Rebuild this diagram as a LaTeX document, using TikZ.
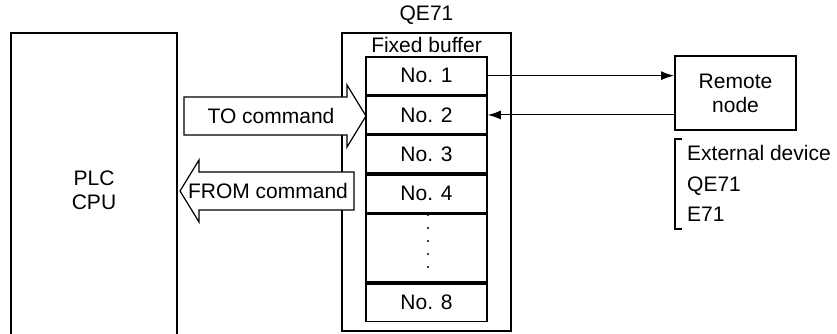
\documentclass[tikz,border=0pt]{standalone}
\usepackage{fontspec}
\setmainfont{Liberation Sans}
\usetikzlibrary{arrows.meta}
\begin{document}
\begin{tikzpicture}[x=1pt,y=-1pt, font=\fontsize{21}{24}\selectfont,
  box/.style={draw, line width=2pt},
  cell/.style={draw, line width=1.6pt, minimum width=121pt, inner sep=0pt, anchor=north},
  bigarrow/.style={draw, fill=white, line width=1.2pt},
  link/.style={line width=1.1pt, -{Latex[length=13pt,width=9pt]}},
  lbl/.style={inner sep=0pt}]
\useasboundingbox (0,0) rectangle (837,334);
% PLC CPU
\draw[box] (11,340) -- (11,33) -- (177,33) -- (177,340);
\node[lbl, align=center] (plc) at (94,190) {PLC\\CPU};
% QE71 box
\node[box, minimum width=169pt, minimum height=298pt, inner sep=0pt] (qe) at (426.5,182) {};
\node[lbl] (qelbl) at (426.5,15) {QE71};
\node[lbl] (fb) at (426.5,45) {Fixed buffer};
% big arrows
\draw[bigarrow] (184,97) -- (347,97) -- (347,85) -- (366,116) -- (347,147) -- (347,135) -- (184,135) -- cycle;
\node[lbl] (to) at (271,116) {TO command};
\draw[bigarrow] (354,172) -- (199,172) -- (199,160) -- (180,191) -- (199,222) -- (199,210) -- (354,210) -- cycle;
\node[lbl] (from) at (268,191) {FROM command};
% buffer cells
\node[cell, minimum height=37.7pt] (n1) at (426.5,56) {No. 1};
\node[cell, minimum height=37.7pt] (n2) at (n1.south) {No. 2};
\node[cell, minimum height=37.7pt] (n3) at (n2.south) {No. 3};
\node[cell, minimum height=37.7pt] (n4) at (n3.south) {No. 4};
\node[cell, minimum height=68.2pt] (dots) at (n4.south) {};
\node[cell, minimum height=37.7pt] (n8) at (dots.south) {No. 8};
\foreach \yy in {215,228,241,254,267} \fill (428,\yy) circle (1.2pt);
% remote node
\node[box, minimum width=121pt, minimum height=74pt, align=center, inner sep=0pt] (remote) at (735.5,93) {Remote\\node};
\draw[link] (n1.east) -- (remote.west |- n1.east);
\draw[link] (remote.west |- n2.east) -- (n2.east);
% bracket
\draw[line width=1.1pt] (682,139) -- (675,139) -- (675,229) -- (682,229);
\node[lbl, anchor=west] (ext) at (687,153) {External device};
\node[lbl, anchor=west] (q2) at (687,186) {QE71};
\node[lbl, anchor=west] (e71) at (687,214) {E71};
\end{tikzpicture}
\end{document}
